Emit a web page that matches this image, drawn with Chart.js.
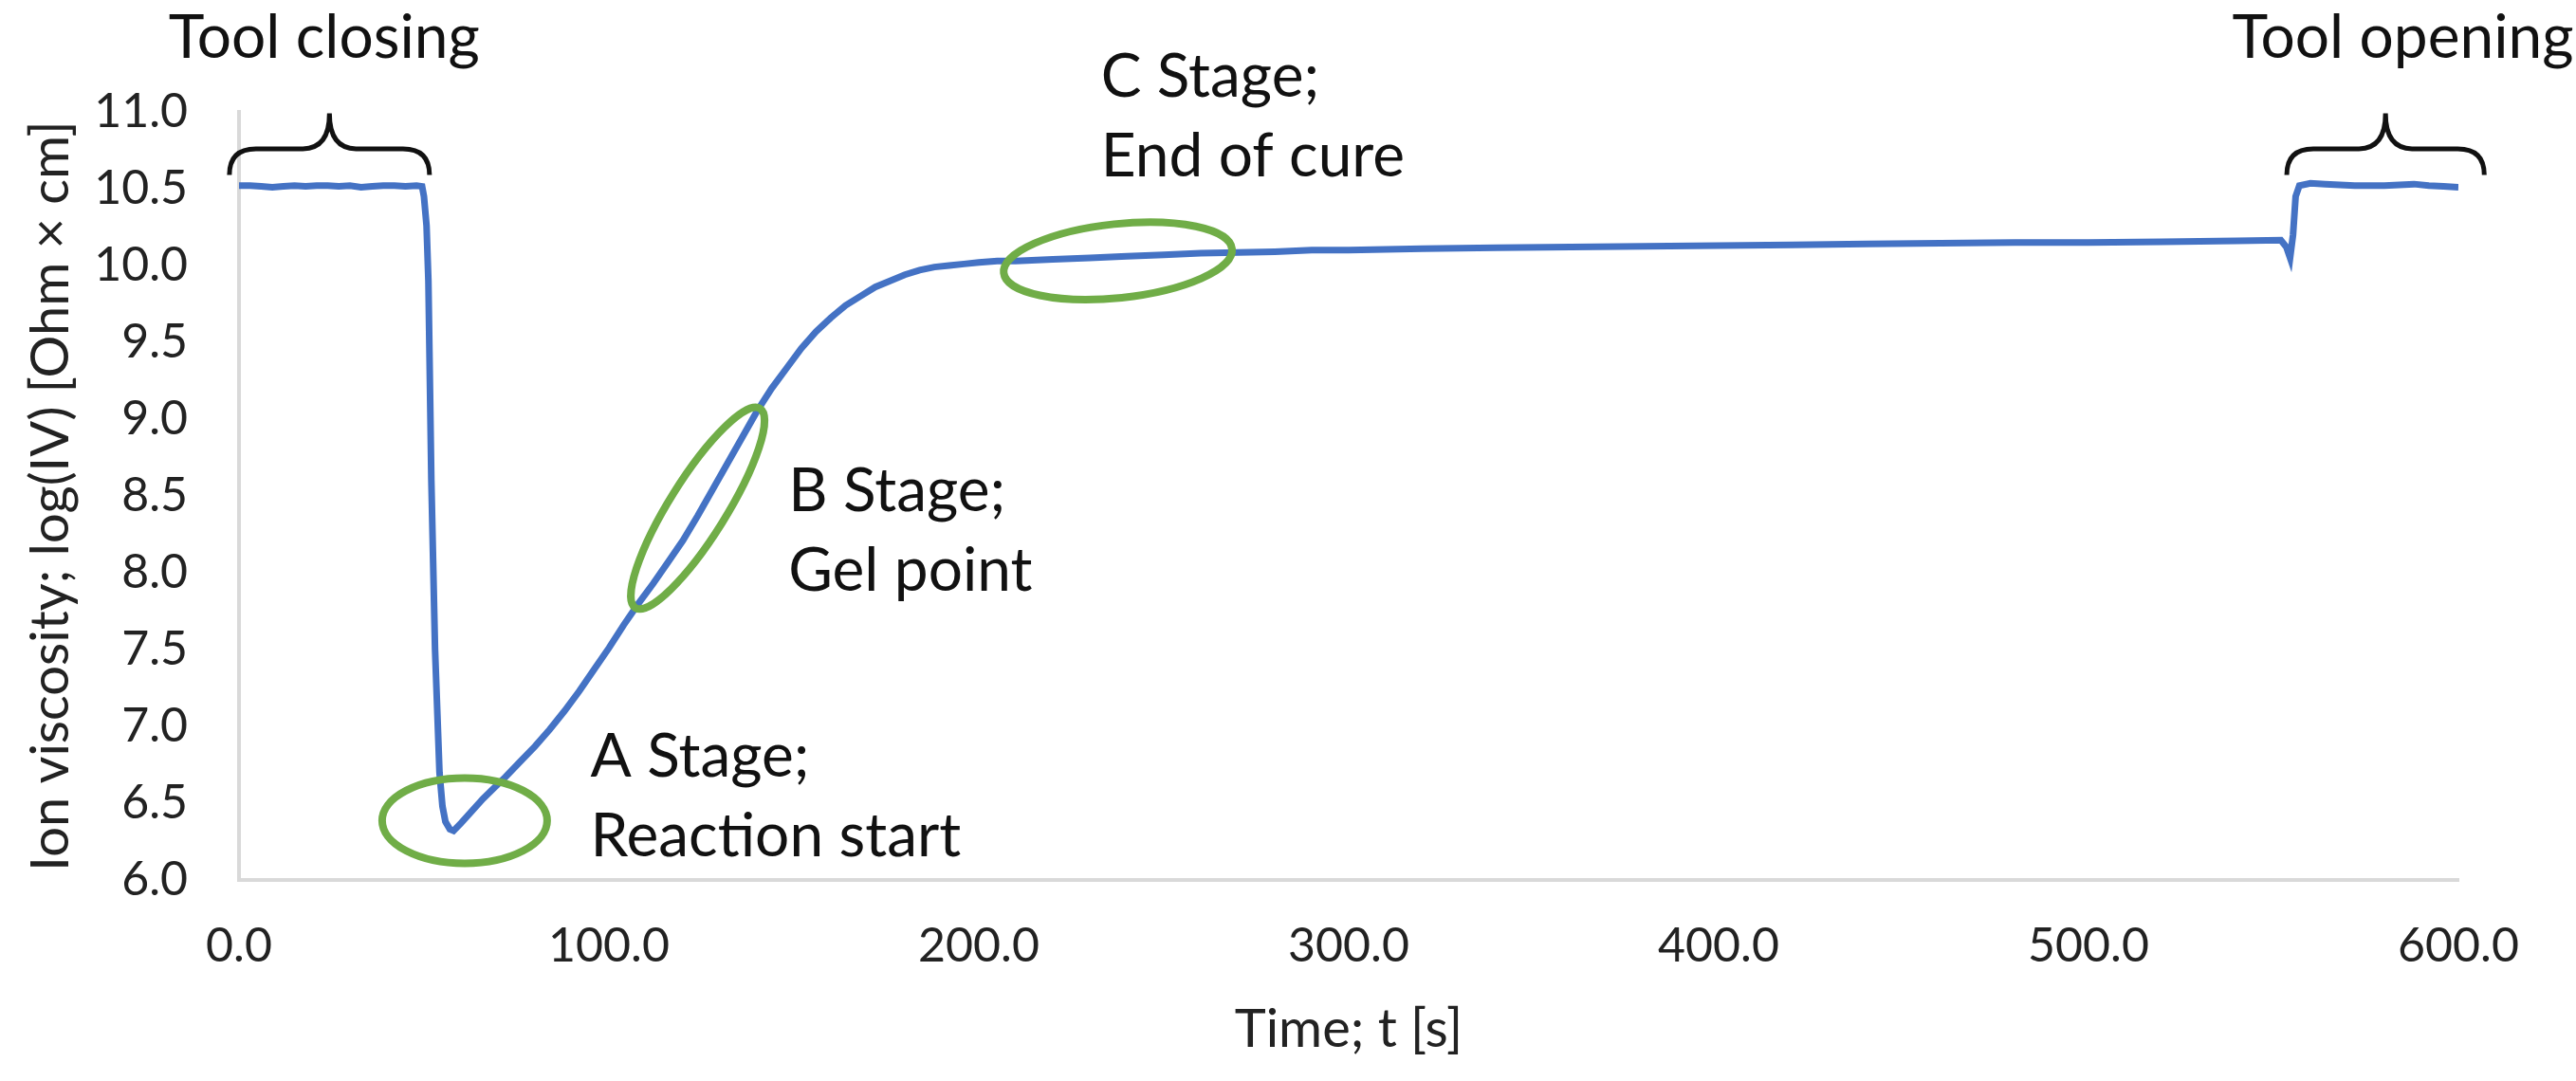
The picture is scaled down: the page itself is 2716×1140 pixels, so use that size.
<!DOCTYPE html>
<html>
<head>
<meta charset="utf-8">
<script src="https://cdn.jsdelivr.net/npm/chart.js@4"></script>
<style>
  html, body { margin: 0; padding: 0; background: #fff; }
  #wrap { width: 2716px; height: 1140px; }
</style>
</head>
<body>
<div id="wrap"><canvas id="chart" width="2716" height="1140"></canvas></div>
<script>
// time axis [s] and log ion viscosity
const timeS = [
  0, 3, 6, 9, 12, 15, 18, 21, 24, 27, 30, 33, 36, 39, 42, 45, 48, 49.5,
  50, 50.7, 51.2, 52, 53, 54.2, 55, 55.8, 57, 58,
  60, 63, 66, 69, 72, 76, 80, 84, 88, 92, 96, 100, 104, 108, 112, 116, 120,
  124, 128, 132, 136, 140, 144, 148, 152, 156, 160, 164, 168, 172, 176, 180,
  184, 188, 192, 196, 200, 205, 210, 220, 230, 240, 250, 260, 270, 280, 290,
  300, 320, 340, 360, 380, 400, 420, 440, 460, 480, 500, 520, 540, 552,
  553.5, 554.5, 555.3, 556, 557, 560, 564, 568, 572, 576, 580, 584, 588, 592, 596, 600
];
const ionVisc = [
  10.52, 10.52, 10.515, 10.51, 10.515, 10.52, 10.515, 10.52, 10.52, 10.515, 10.52, 10.51, 10.515, 10.52, 10.52, 10.515, 10.52, 10.515,
  10.45, 10.26, 9.9, 8.6, 7.5, 6.7, 6.48, 6.38, 6.33, 6.32,
  6.37, 6.45, 6.53, 6.6, 6.67, 6.77, 6.87, 6.98, 7.1, 7.23, 7.37, 7.51, 7.66, 7.8, 7.93, 8.07, 8.21,
  8.37, 8.54, 8.71, 8.88, 9.05, 9.2, 9.33, 9.46, 9.57, 9.66, 9.74, 9.8, 9.86, 9.9, 9.94,
  9.97, 9.99, 10.0, 10.01, 10.02, 10.03, 10.03, 10.04, 10.05, 10.06, 10.07, 10.08, 10.085, 10.09, 10.1,
  10.1, 10.11, 10.115, 10.12, 10.125, 10.13, 10.135, 10.14, 10.145, 10.15, 10.15, 10.155, 10.16, 10.165,
  10.12, 10.05, 10.2, 10.45, 10.52, 10.535, 10.53, 10.525, 10.52, 10.52, 10.52, 10.525, 10.53, 10.52, 10.515, 10.51
];

const xTitle = 'Time; t [s]';
const yTitle = 'Ion viscosity; log(IV) [Ohm × cm]';

const FONT = 'Lato, "Open Sans", sans-serif';

// stage circles: centre in data units, radii in px
const ellipses = [
  { t: 61, v: 6.386, rx: 87, ry: 45, rot: 0 },
  { t: 124, v: 8.42, rx: 124, ry: 30, rot: -58 },
  { t: 237.6, v: 10.03, rx: 121, ry: 39, rot: -6 }
];
// curly braces above the tool phases
const braces = [
  { t0: -2.6, t1: 51.5, vEnd: 10.59, vMid: 10.76, vTip: 10.99 },
  { t0: 553.6, t1: 607, vEnd: 10.59, vMid: 10.76, vTip: 10.99 }
];
const labels = [
  { lines: ['Tool closing'], t: 23, v: 11.0, align: 'center', dy: -78 },
  { lines: ['Tool opening'], t: 585, v: 11.0, align: 'center', dy: -78 },
  { lines: ['C Stage;', 'End of cure'], t: 233, v: 11.0, align: 'left', dy: -37 },
  { lines: ['B Stage;', 'Gel point'], t: 148.5, v: 8.5, align: 'left', dy: -5 },
  { lines: ['A Stage;', 'Reaction start'], t: 95, v: 6.8, align: 'left', dy: 0 }
];

const annotations = {
  id: 'annotations',
  afterDatasetsDraw(chart) {
    const ctx = chart.ctx;
    const xs = chart.scales.x, ys = chart.scales.y;
    ctx.save();
    ctx.strokeStyle = '#70AD47';
    ctx.lineWidth = 8;
    ellipses.forEach(e => {
      ctx.beginPath();
      ctx.ellipse(xs.getPixelForValue(e.t), ys.getPixelForValue(e.v), e.rx, e.ry, e.rot * Math.PI / 180, 0, Math.PI * 2);
      ctx.stroke();
    });

    ctx.strokeStyle = '#111';
    ctx.lineWidth = 5;
    braces.forEach(b => {
      const x0 = xs.getPixelForValue(b.t0), x1 = xs.getPixelForValue(b.t1);
      const xc = (x0 + x1) / 2;
      const yE = ys.getPixelForValue(b.vEnd), yM = ys.getPixelForValue(b.vMid), yT = ys.getPixelForValue(b.vTip);
      const r = 28;
      ctx.beginPath();
      ctx.moveTo(x0, yE);
      ctx.quadraticCurveTo(x0, yM, x0 + r, yM);
      ctx.lineTo(xc - r, yM);
      ctx.quadraticCurveTo(xc, yM, xc, yT);
      ctx.quadraticCurveTo(xc, yM, xc + r, yM);
      ctx.lineTo(x1 - r, yM);
      ctx.quadraticCurveTo(x1, yM, x1, yE);
      ctx.stroke();
    });

    ctx.fillStyle = '#111';
    ctx.font = '64px ' + FONT;
    ctx.textBaseline = 'middle';
    labels.forEach(l => {
      ctx.textAlign = l.align;
      const x = xs.getPixelForValue(l.t);
      const y = ys.getPixelForValue(l.v) + l.dy;
      l.lines.forEach((s, i) => ctx.fillText(s, x, y + i * 84));
    });
    ctx.restore();
  }
};

new Chart(document.getElementById('chart'), {
  type: 'line',
  data: {
    datasets: [{
      data: timeS.map((t, i) => ({ x: t, y: ionVisc[i] })),
      borderColor: '#4472C4',
      borderWidth: 7,
      pointRadius: 0,
      tension: 0,
      fill: false
    }]
  },
  options: {
    responsive: false,
    devicePixelRatio: 1,
    animation: false,
    layout: { padding: { left: 0, right: 124, top: 118, bottom: 0 } },
    plugins: { legend: { display: false }, tooltip: { enabled: false } },
    scales: {
      x: {
        type: 'linear',
        min: 0, max: 600,
        grid: { display: false, drawTicks: false },
        border: { display: true, color: '#D9D9D9', width: 4 },
        ticks: { stepSize: 100, padding: 40, color: '#222', font: { family: FONT, size: 50 }, callback: v => v.toFixed(1), maxRotation: 0 },
        title: { display: true, text: xTitle, color: '#222', font: { family: FONT, size: 56 }, padding: { bottom: 20 } },
        afterFit(s) { s.height = 212; }
      },
      y: {
        min: 6, max: 11,
        grid: { display: false, drawTicks: false },
        border: { display: true, color: '#D9D9D9', width: 4 },
        ticks: { stepSize: 0.5, padding: 54, color: '#222', font: { family: FONT, size: 50 }, callback: v => v.toFixed(1) },
        title: { display: true, text: yTitle, color: '#222', font: { family: FONT, size: 56 }, padding: { top: 20 } },
        afterFit(s) { s.width = 252; }
      }
    }
  },
  plugins: [annotations]
});
</script>
</body>
</html>
